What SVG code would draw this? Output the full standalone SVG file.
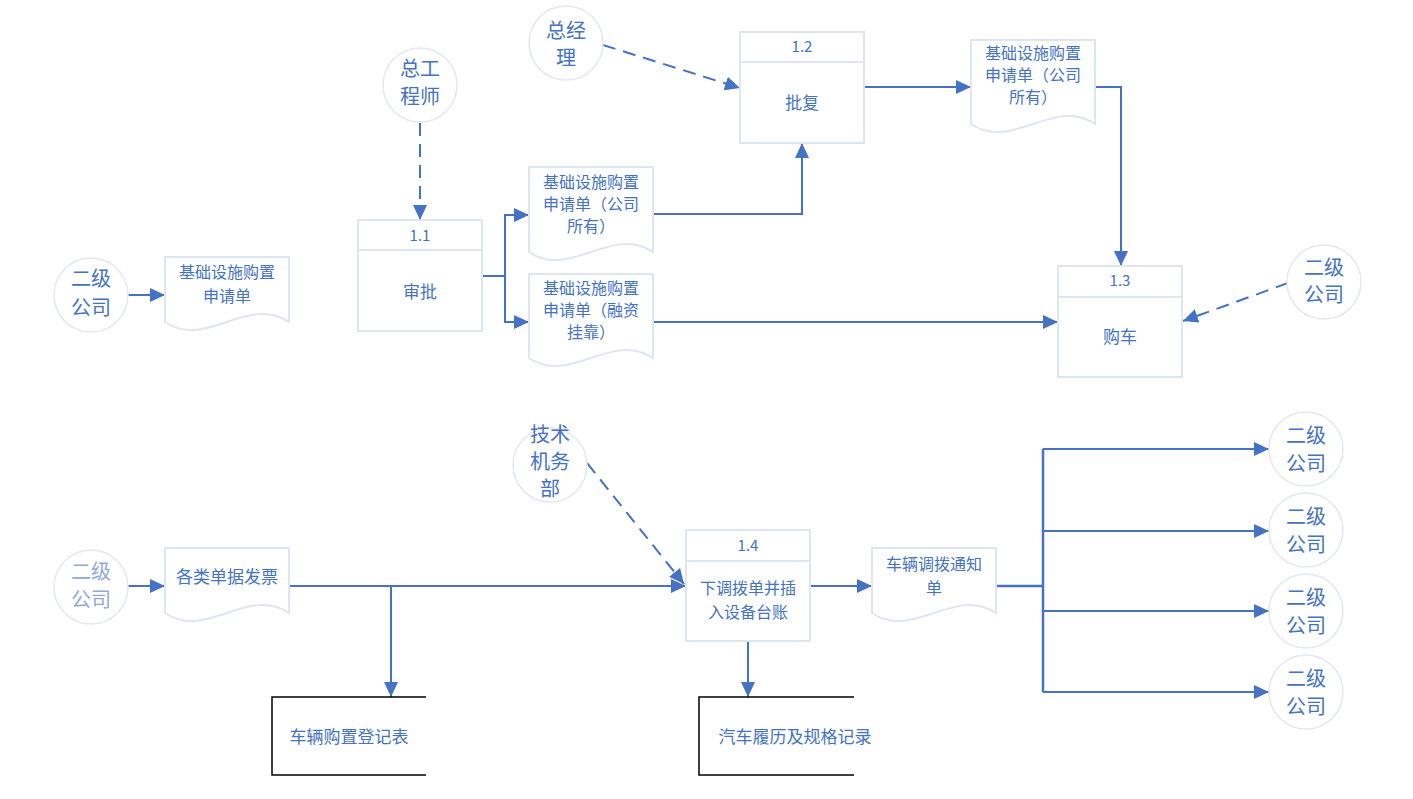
<svg xmlns="http://www.w3.org/2000/svg" width="1413" height="799" viewBox="0 0 1413 799">
<style>
text{font-family:"Noto Sans CJK SC","Noto Sans",sans-serif;fill:#4472C4;text-anchor:middle}
.ct{font-size:20px}
.ct2{font-size:20px;fill:#8EA9DB}
.t{font-size:17px}
.dt{font-size:16px}
.n{font-size:15px}
.circ{fill:#fff;stroke:#E3E7F3;stroke-width:1.5}
.box{fill:#fff;stroke:#E0E5F2;stroke-width:2}
.doc{fill:#fff;stroke:#E0E5F2;stroke-width:2}
.store{fill:none;stroke:#000;stroke-width:1.5}
.c{fill:none;stroke:#4472C4;stroke-width:2;marker-end:url(#ah)}
.cn{fill:none;stroke:#4472C4;stroke-width:2.5}
.d{fill:none;stroke:#4472C4;stroke-width:2;stroke-dasharray:13 8;marker-end:url(#ah)}
</style>
<defs>
<marker id="ah" markerUnits="userSpaceOnUse" markerWidth="16" markerHeight="14" refX="15" refY="7" orient="auto">
<path d="M0,0 L15,7 L0,14 z" fill="#4472C4"/>
</marker>
</defs>
<rect width="1413" height="799" fill="#fff"/>

<g id="connectors">
<path class="c" d="M128,295 H165"/>
<path class="d" d="M420,123 V220"/>
<path class="c" d="M482,276 H505 V215 H529"/>
<path class="c" d="M505,276 V322 H529"/>
<path class="c" d="M653,214 H802 V143"/>
<path class="c" d="M653,322 H1058"/>
<path class="d" d="M603,45 L740,88"/>
<path class="c" d="M864,87 H971"/>
<path class="c" d="M1096,87 H1121 V266"/>
<path class="d" d="M1288,283 L1183,321"/>
<path class="c" d="M128,586 H165"/>
<path class="c" d="M289,586 H686"/>
<path class="c" d="M391,586 V697"/>
<path class="d" d="M587,463 L684,584"/>
<path class="c" d="M810,586 H872"/>
<path class="c" d="M748,641 V697"/>
<path class="cn" d="M996,586 H1043"/>
<path class="cn" d="M1043,449 V692"/>
<path class="c" d="M1043,449 H1269"/>
<path class="c" d="M1043,531 H1269"/>
<path class="c" d="M1043,611 H1269"/>
<path class="c" d="M1043,692 H1269"/>
</g>

<g id="e-zgcs">
<circle class="circ" cx="420" cy="85" r="37"/>
<text class="ct" x="420" y="76">总工</text>
<text class="ct" x="420" y="104">程师</text>
</g>
<g id="e-zjl">
<circle class="circ" cx="566" cy="43" r="37"/>
<text class="ct" x="566" y="38">总经</text>
<text class="ct" x="566" y="65">理</text>
</g>
<g id="e-ejgs1">
<circle class="circ" cx="91" cy="295" r="37"/>
<text class="ct" x="91" y="286">二级</text>
<text class="ct" x="91" y="315">公司</text>
</g>
<g id="e-ejgs2">
<circle class="circ" cx="1324" cy="282" r="37"/>
<text class="ct" x="1324" y="275">二级</text>
<text class="ct" x="1324" y="302">公司</text>
</g>
<g id="e-jsjwb">
<circle class="circ" cx="550" cy="465" r="37"/>
<text class="ct" x="550" y="442">技术</text>
<text class="ct" x="550" y="469">机务</text>
<text class="ct" x="550" y="496">部</text>
</g>
<g id="e-ejgs3">
<circle class="circ" cx="91" cy="587" r="37"/>
<text class="ct2" x="91" y="579">二级</text>
<text class="ct2" x="91" y="607">公司</text>
</g>
<g id="e-ejgs4">
<circle class="circ" cx="1306" cy="449" r="37"/>
<text class="ct" x="1306" y="443">二级</text>
<text class="ct" x="1306" y="471">公司</text>
</g>
<g id="e-ejgs5">
<circle class="circ" cx="1306" cy="530" r="37"/>
<text class="ct" x="1306" y="524">二级</text>
<text class="ct" x="1306" y="552">公司</text>
</g>
<g id="e-ejgs6">
<circle class="circ" cx="1306" cy="611" r="37"/>
<text class="ct" x="1306" y="605">二级</text>
<text class="ct" x="1306" y="633">公司</text>
</g>
<g id="e-ejgs7">
<circle class="circ" cx="1306" cy="692" r="37"/>
<text class="ct" x="1306" y="686">二级</text>
<text class="ct" x="1306" y="714">公司</text>
</g>

<g id="p-1-1">
<rect class="box" x="358" y="220" width="124" height="111"/>
<line class="box" x1="358" y1="250" x2="482" y2="250"/>
<text class="n" x="420" y="241">1.1</text>
<text class="t" x="420" y="298">审批</text>
</g>
<g id="p-1-2">
<rect class="box" x="740" y="32" width="124" height="111"/>
<line class="box" x1="740" y1="62" x2="864" y2="62"/>
<text class="n" x="802" y="52">1.2</text>
<text class="t" x="802" y="109">批复</text>
</g>
<g id="p-1-3">
<rect class="box" x="1058" y="266" width="124" height="111"/>
<line class="box" x1="1058" y1="297" x2="1182" y2="297"/>
<text class="n" x="1120" y="286">1.3</text>
<text class="t" x="1120" y="343">购车</text>
</g>
<g id="p-1-4">
<rect class="box" x="686" y="530" width="124" height="111"/>
<line class="box" x1="686" y1="561" x2="810" y2="561"/>
<text class="n" x="748" y="551">1.4</text>
<text class="dt" x="748" y="594">下调拨单并插</text>
<text class="dt" x="748" y="618">入设备台账</text>
</g>

<g id="d-sq">
<path class="doc" d="M165,257 H289 V322 C248,294 206,350 165,322 Z"/>
<text class="dt" x="227" y="278">基础设施购置</text>
<text class="dt" x="227" y="302">申请单</text>
</g>
<g id="d-gsyy1">
<path class="doc" d="M529,167 H653 V252 C612,224 570,280 529,252 Z"/>
<text class="dt" x="591" y="188">基础设施购置</text>
<text class="dt" x="591" y="210">申请单（公司</text>
<text class="dt" x="591" y="232">所有）</text>
</g>
<g id="d-rzgk">
<path class="doc" d="M529,274 H653 V358 C612,330 570,386 529,358 Z"/>
<text class="dt" x="591" y="294">基础设施购置</text>
<text class="dt" x="591" y="316">申请单（融资</text>
<text class="dt" x="591" y="338">挂靠）</text>
</g>
<g id="d-gsyy2">
<path class="doc" d="M971,40 H1095 V124 C1054,96 1012,152 971,124 Z"/>
<text class="dt" x="1033" y="59">基础设施购置</text>
<text class="dt" x="1033" y="81">申请单（公司</text>
<text class="dt" x="1033" y="103">所有）</text>
</g>
<g id="d-gldj">
<path class="doc" d="M165,548 H289 V613 C248,585 206,641 165,613 Z"/>
<text class="t" x="227" y="583">各类单据发票</text>
</g>
<g id="d-dbtz">
<path class="doc" d="M872,548 H996 V613 C955,585 913,641 872,613 Z"/>
<text class="dt" x="934" y="570">车辆调拨通知</text>
<text class="dt" x="934" y="594">单</text>
</g>

<g id="s-gzdj">
<path class="store" d="M426,697 H272 V775 H426"/>
<text class="t" x="349" y="743">车辆购置登记表</text>
</g>
<g id="s-llgg">
<path class="store" d="M854,697 H699 V775 H854"/>
<text class="t" x="795" y="743">汽车履历及规格记录</text>
</g>
</svg>
